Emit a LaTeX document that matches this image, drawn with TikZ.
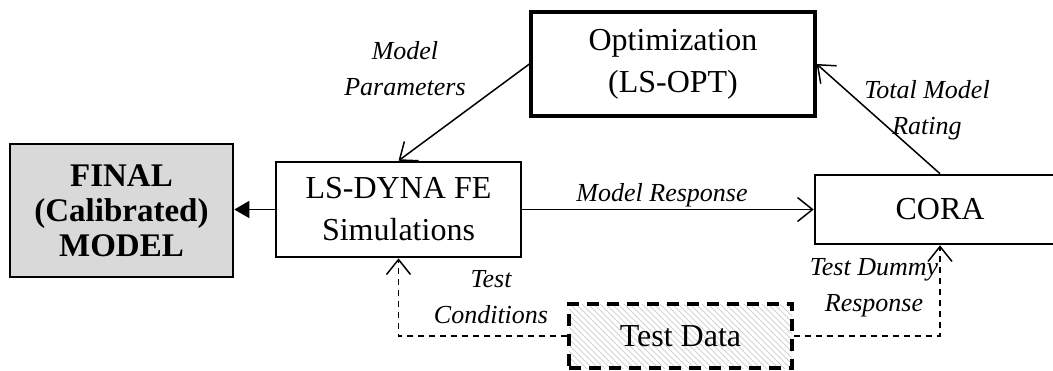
\documentclass[tikz,border=0pt]{standalone}
\usepackage{fontspec}
\setmainfont{Liberation Serif}
\usetikzlibrary{arrows.meta,patterns}

\begin{document}
\begin{tikzpicture}[x=0.5pt,y=-0.5pt,
    block/.style={draw,line width=1.3pt,inner sep=0pt,align=center,
      font=\fontsize{16}{21}\selectfont},
    lbl/.style={align=center,inner sep=0pt,font=\fontsize{13}{18}\selectfont\itshape},
    opn/.style={line width=0.75pt,-{Straight Barb[length=7.5pt,width=12pt]}},
    dsh/.style={opn,dash pattern=on 3pt off 2.5pt}]
    \useasboundingbox (0,0) rectangle (1053,370);
    \node[block,fill=gray!30,minimum width=111.5pt,minimum height=66.5pt,
      font=\fontsize{16.5}{17.5}\selectfont\bfseries] (final) at (121.5,210.5) {FINAL\\(Calibrated)\\MODEL};
    \node[block,minimum width=122.5pt,minimum height=47.5pt] (dyna) at (398.5,209.5) {LS-DYNA FE\\Simulations};
    \node[block,line width=1.6pt,minimum width=142pt,minimum height=52pt] (opt) at (673,64) {Optimization\\(LS-OPT)};
    \node[block,minimum width=125pt,minimum height=34.5pt] (cora) at (940,209.5) {CORA};
    \node[block,dash pattern=on 6pt off 4pt,line width=1.6pt,pattern=north west lines,pattern color=gray!35,
      minimum width=111.5pt,minimum height=32pt] (data) at (680.5,336) {};
    \node[font=\fontsize{16}{21}\selectfont] (datatxt) at (data) {Test Data};
    \draw[line width=0.8pt,-{Triangle[length=7.5pt,width=8.5pt]}] (dyna.west) -- (final.east |- dyna.west);
    \draw[opn] (opt.west) -- (dyna.north);
    \draw[opn] (dyna.east) -- (cora.west);
    \draw[opn] (cora.north) -- (opt.east);
    \draw[dsh] (data.west) -| (dyna.south);
    \draw[dsh] (data.east) -| (cora.south);
    \node[lbl] (paramlbl) at (405,69) {Model\\Parameters};
    \node[lbl] (resplbl) at (662,195) {Model Response};
    \node[lbl] (ratinglbl) at (927,110) {Total Model\\Rating};
    \node[lbl] (condlbl) at (491,297) {Test\\Conditions};
    \node[lbl] (dummylbl) at (874,288) {Test Dummy\\Response};
\end{tikzpicture}
\end{document}
